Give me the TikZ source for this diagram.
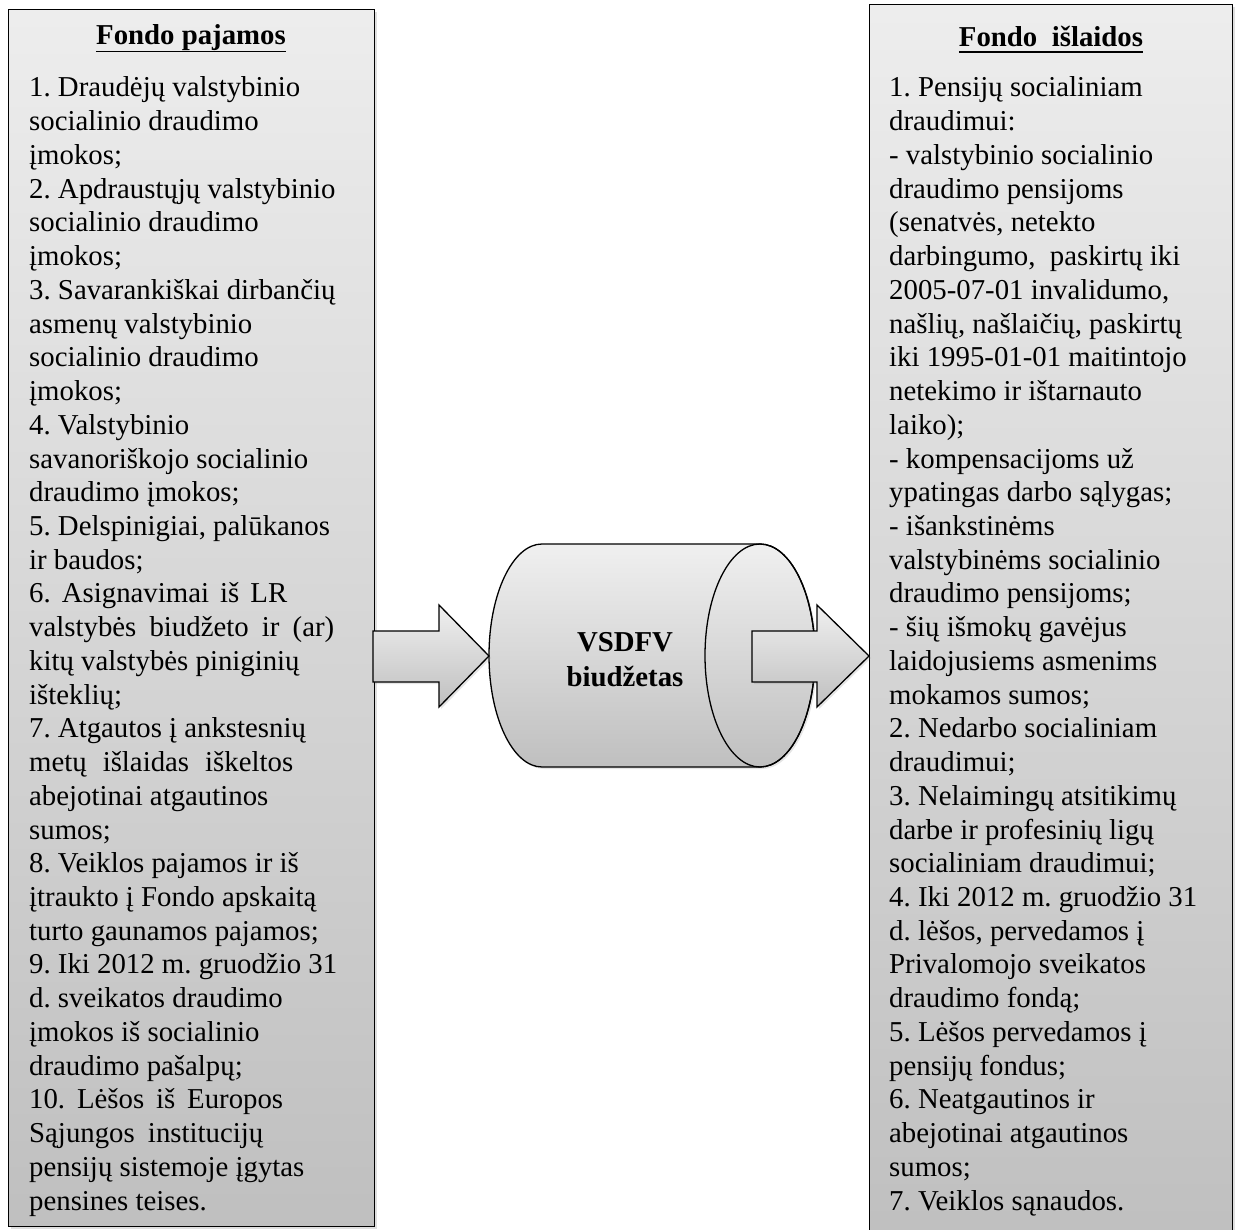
\documentclass[tikz,border=0pt]{standalone}
\usepackage{fontspec}
\setmainfont{Liberation Serif}
\usetikzlibrary{shadows,calc}
\frenchspacing
\begin{document}
\begin{tikzpicture}[x=1pt,y=-1pt,
  panel/.style={draw=black, line width=1.3pt, top color=black!7, bottom color=black!25,
    drop shadow={shadow xshift=2.5pt, shadow yshift=-2.5pt, opacity=0.25}},
  shapefill/.style={draw=black, line width=1.3pt, top color=black!6, bottom color=black!25},
  shadowed/.style={drop shadow={shadow xshift=2pt, shadow yshift=-2pt, opacity=0.2}},
  bodytext/.style={anchor=base west, inner sep=0pt, font=\fontsize{28.8}{33.73}\selectfont\frenchspacing},
  titletext/.style={anchor=base, inner sep=0pt, font=\fontsize{28.8}{33.73}\selectfont\bfseries},
  uline/.style={line width=1.6pt}]
\useasboundingbox (0,0) rectangle (1235,1230);
\fill[white] (0,0) rectangle (1235,1230);

% panels
\node[panel, anchor=north west, minimum width=366pt, minimum height=1217pt, inner sep=0pt] (incbox) at (8,9) {};
\node[panel, anchor=north west, minimum width=363pt, minimum height=1240pt, inner sep=0pt] (expbox) at (869,4) {};

% titles
\node[titletext] (inctitle) at (191,45) {Fondo pajamos};
\draw[uline] ($(inctitle.base west)+(0,6.5)$) -- ($(inctitle.base east)+(0,6.5)$);
\node[titletext] (exptitle) at (1051,47) {Fondo~~išlaidos};
\draw[uline] ($(exptitle.base west)+(0,5)$) -- ($(exptitle.base east)+(0,5)$);

% income text
\node[bodytext] (inctext) at (29,97) {\parbox[t]{345pt}{\raggedright\frenchspacing
1. Draudėjų valstybinio\\
socialinio draudimo\\
įmokos;\\
2. Apdraustųjų valstybinio\\
socialinio draudimo\\
įmokos;\\
3. Savarankiškai dirbančių\\
asmenų valstybinio\\
socialinio draudimo\\
įmokos;\\
4. Valstybinio\\
savanoriškojo socialinio\\
draudimo įmokos;\\
5. Delspinigiai, palūkanos\\
ir baudos;\\
\makebox[258pt][s]{6. Asignavimai iš LR}\\
\makebox[305pt][s]{valstybės biudžeto ir (ar)}\\
kitų valstybės piniginių\\
išteklių;\\
7. Atgautos į ankstesnių\\
\makebox[264pt][s]{metų išlaidas iškeltos}\\
abejotinai atgautinos\\
sumos;\\
8. Veiklos pajamos ir iš\\
įtraukto į Fondo apskaitą\\
turto gaunamos pajamos;\\
9. Iki 2012 m. gruodžio 31\\
d. sveikatos draudimo\\
įmokos iš socialinio\\
draudimo pašalpų;\\
\makebox[254pt][s]{10. Lėšos iš Europos}\\
\makebox[234pt][s]{Sąjungos institucijų}\\
pensijų sistemoje įgytas\\
pensines teises.}};

% expense text
\node[bodytext] (exptext) at (889,97) {\parbox[t]{343pt}{\raggedright\frenchspacing
1. Pensijų socialiniam\\
draudimui:\\
- valstybinio socialinio\\
draudimo pensijoms\\
(senatvės, netekto\\
darbingumo,\ \ paskirtų iki\\
2005-07-01 invalidumo,\\
našlių, našlaičių, paskirtų\\
iki 1995-01-01 maitintojo\\
netekimo ir ištarnauto\\
laiko);\\
- kompensacijoms už\\
ypatingas darbo sąlygas;\\
- išankstinėms\\
valstybinėms socialinio\\
draudimo pensijoms;\\
- šių išmokų gavėjus\\
laidojusiems asmenims\\
mokamos sumos;\\
2. Nedarbo socialiniam\\
draudimui;\\
3. Nelaimingų atsitikimų\\
darbe ir profesinių ligų\\
socialiniam draudimui;\\
4. Iki 2012 m. gruodžio 31\\
d. lėšos, pervedamos į\\
Privalomojo sveikatos\\
draudimo fondą;\\
5. Lėšos pervedamos į\\
pensijų fondus;\\
6. Neatgautinos ir\\
abejotinai atgautinos\\
sumos;\\
7. Veiklos sąnaudos.}};

% cylinder
\path[shapefill, shadowed] (542,544)
  arc[start angle=270, end angle=90, x radius=53, y radius=111.5]
  -- (760,767)
  arc[start angle=90, end angle=-90, x radius=55, y radius=111.5]
  -- cycle;
\draw[line width=1.3pt] (760,655.5) ellipse[x radius=55, y radius=111.5];
\node[inner sep=0pt, align=center, font=\fontsize{28.8}{35}\selectfont\bfseries] (budget) at (625,660) {VSDFV\\biudžetas};

% block arrows
\coordinate (inTip) at (489,656);
\coordinate (outTip) at (869,656);
\path[shapefill, shadowed] ($(inTip)+(-116,-25)$) -- ++(66,0) -- ++(0,-26) -- (inTip)
  -- ($(inTip)+(-50,51)$) -- ++(0,-25) -- ++(-66,0) -- cycle;
\path[shapefill, shadowed] ($(outTip)+(-117,-25)$) -- ++(65,0) -- ++(0,-26) -- (outTip)
  -- ($(outTip)+(-52,51)$) -- ++(0,-25) -- ++(-65,0) -- cycle;
\end{tikzpicture}
\end{document}
